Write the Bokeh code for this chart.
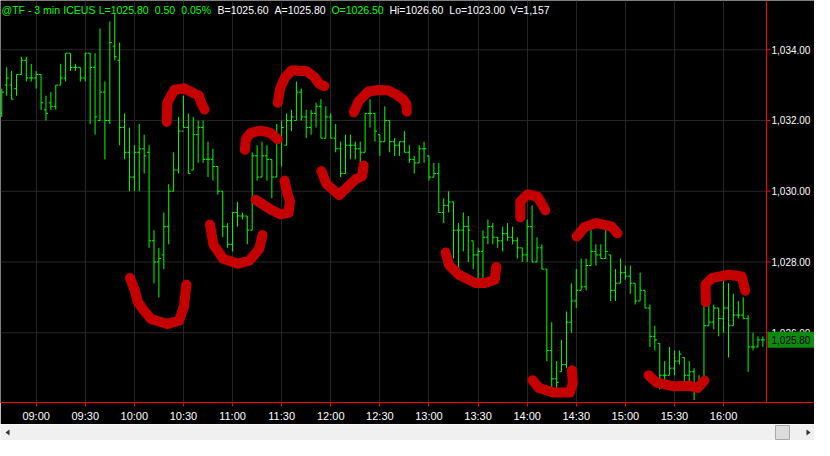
from bokeh.plotting import figure
from bokeh.models import (ColumnDataSource, FixedTicker, Label, Range1d, Span)
from bokeh.layouts import column
from bokeh.embed import file_html
from bokeh.resources import INLINE
from bokeh.core.properties import value

# ---------------- data (3-minute OHLC bars, @TF) ----------------
first_bar_time = "08:39"
bar_minutes = 3

highs = [1032.9, 1033.5, 1033.4, 1033.3, 1033.8, 1033.8, 1033.6, 1033.4, 1033.3, 1032.7,
         1032.8, 1033.0, 1033.6, 1033.9, 1033.9, 1033.6, 1033.5, 1033.9, 1033.9, 1033.9,
         1034.6, 1033.1, 1034.8, 1035.0, 1034.2, 1032.2, 1031.8, 1031.3, 1031.9, 1031.6,
         1031.3, 1028.9, 1028.4, 1029.4, 1030.2, 1031.1, 1032.1, 1032.7, 1032.2, 1032.1,
         1032.0, 1032.0, 1031.4, 1031.2, 1030.7, 1030.0, 1029.1, 1029.4, 1029.7, 1029.4,
         1029.3, 1031.1, 1031.3, 1031.4, 1031.3, 1030.9, 1031.9, 1032.0, 1032.2, 1032.3,
         1033.1, 1032.9, 1032.3, 1032.3, 1032.5, 1032.6, 1032.4, 1032.2, 1031.9, 1031.4,
         1031.6, 1031.6, 1031.4, 1031.4, 1032.2, 1032.6, 1032.2, 1031.6, 1032.4, 1032.0,
         1031.5, 1031.4, 1031.7, 1031.3, 1031.0, 1031.3, 1031.4, 1031.0, 1030.8, 1030.8,
         1029.8, 1030.0, 1029.7, 1029.1, 1029.4, 1029.3, 1028.6, 1028.4, 1028.9, 1029.2,
         1029.1, 1028.7, 1029.0, 1029.1, 1029.0, 1028.7, 1028.4, 1029.2, 1029.6, 1028.7,
         1028.5, 1027.8, 1026.3, 1025.2, 1025.8, 1026.6, 1027.4, 1027.8, 1028.1, 1028.1,
         1028.9, 1028.5, 1028.5, 1028.9, 1028.2, 1027.8, 1028.1, 1027.9, 1027.9, 1027.4,
         1027.7, 1027.2, 1026.8, 1026.2, 1025.7, 1025.2, 1025.6, 1025.5, 1025.5, 1025.3,
         1025.2, 1025.0, 1024.8, 1026.8, 1026.8, 1026.8, 1026.7, 1027.5, 1027.4, 1027.1,
         1026.9, 1027.0, 1026.5, 1026.0, 1025.9, 1025.9]

lows = [1032.1, 1032.7, 1032.6, 1032.7, 1033.3, 1033.1, 1033.1, 1032.9, 1032.3, 1032.0,
        1032.3, 1032.3, 1033.0, 1033.1, 1033.4, 1033.4, 1033.1, 1033.1, 1031.9, 1031.6,
        1032.0, 1030.9, 1031.9, 1033.7, 1031.3, 1030.9, 1030.0, 1030.0, 1030.0, 1030.5,
        1028.4, 1027.4, 1027.0, 1027.8, 1028.5, 1030.0, 1030.5, 1031.8, 1030.5, 1030.6,
        1030.8, 1030.8, 1030.4, 1030.3, 1029.9, 1028.7, 1028.4, 1028.3, 1029.0, 1029.2,
        1028.5, 1028.9, 1030.3, 1030.4, 1030.3, 1029.8, 1030.4, 1030.7, 1031.3, 1031.7,
        1032.0, 1032.0, 1031.5, 1031.6, 1031.8, 1031.5, 1031.5, 1031.5, 1031.1, 1030.4,
        1030.5, 1030.9, 1030.9, 1030.8, 1031.1, 1031.8, 1031.4, 1031.0, 1031.4, 1031.1,
        1031.0, 1031.0, 1031.1, 1030.8, 1030.5, 1030.8, 1030.8, 1030.3, 1030.4, 1029.4,
        1029.1, 1029.4, 1028.1, 1027.8, 1028.3, 1028.0, 1027.8, 1027.5, 1027.5, 1028.5,
        1028.5, 1028.4, 1028.3, 1028.6, 1028.5, 1028.1, 1028.0, 1028.0, 1028.0, 1028.0,
        1027.8, 1025.2, 1024.4, 1024.4, 1024.9, 1025.0, 1026.0, 1026.7, 1027.2, 1027.2,
        1027.9, 1027.9, 1028.1, 1028.1, 1026.9, 1026.9, 1027.4, 1027.5, 1027.1, 1026.8,
        1026.9, 1026.7, 1025.6, 1025.5, 1024.4, 1024.5, 1024.8, 1024.8, 1025.1, 1024.6,
        1024.6, 1024.1, 1024.4, 1024.6, 1026.2, 1026.1, 1025.9, 1026.0, 1025.3, 1026.2,
        1026.4, 1026.4, 1024.9, 1025.5, 1025.6, 1025.6]

opens = [1032.2, 1033.0, 1033.0, 1032.9, 1033.3, 1033.7, 1033.2, 1033.2, 1033.3, 1032.3,
         1032.5, 1032.4, 1033.0, 1033.2, 1033.9, 1033.5, 1033.5, 1033.2, 1033.9, 1033.5,
         1032.0, 1032.8, 1032.0, 1034.1, 1033.7, 1031.8, 1031.1, 1030.4, 1031.1, 1031.2,
         1031.1, 1028.6, 1028.0, 1028.2, 1029.0, 1030.0, 1030.6, 1031.7, 1031.8, 1030.6,
         1031.6, 1031.8, 1030.9, 1030.9, 1030.7, 1030.0, 1029.0, 1028.5, 1029.4, 1029.3,
         1029.3, 1028.9, 1031.0, 1030.4, 1031.0, 1030.9, 1030.4, 1031.4, 1031.3, 1032.0,
         1032.0, 1032.8, 1032.1, 1031.8, 1032.2, 1032.4, 1031.5, 1032.1, 1031.5, 1031.2,
         1030.5, 1031.3, 1031.3, 1031.2, 1031.1, 1032.2, 1032.2, 1031.6, 1031.4, 1032.0,
         1031.4, 1031.3, 1031.4, 1031.1, 1030.9, 1030.8, 1031.2, 1031.0, 1030.4, 1030.5,
         1029.4, 1029.6, 1029.7, 1028.9, 1028.9, 1029.0, 1028.6, 1028.2, 1028.3, 1028.7,
         1029.0, 1028.7, 1028.6, 1028.8, 1028.7, 1028.6, 1028.4, 1028.2, 1029.0, 1028.0,
         1028.4, 1027.8, 1025.5, 1024.7, 1024.9, 1025.1, 1026.3, 1026.9, 1027.2, 1027.3,
         1027.9, 1028.3, 1028.2, 1028.1, 1028.2, 1027.2, 1027.4, 1027.7, 1027.6, 1027.4,
         1026.9, 1027.2, 1026.7, 1025.9, 1025.7, 1024.8, 1024.8, 1025.0, 1025.2, 1025.3,
         1024.8, 1024.9, 1024.4, 1024.6, 1026.2, 1026.3, 1026.7, 1026.4, 1026.7, 1026.2,
         1026.5, 1026.5, 1026.4, 1025.6, 1025.6, 1025.8]

closes = [1032.8, 1033.2, 1032.6, 1033.3, 1033.7, 1033.2, 1033.2, 1033.3, 1032.5, 1032.2,
          1032.4, 1033.0, 1033.2, 1033.9, 1033.5, 1033.5, 1033.2, 1033.9, 1033.5, 1032.1,
          1032.8, 1032.0, 1034.2, 1033.8, 1031.8, 1031.1, 1030.4, 1031.1, 1031.2, 1031.0,
          1028.6, 1028.0, 1028.1, 1029.0, 1030.0, 1030.6, 1031.7, 1031.8, 1030.5, 1031.6,
          1031.8, 1030.9, 1030.9, 1030.7, 1030.0, 1029.0, 1028.5, 1029.4, 1029.3, 1029.3,
          1028.9, 1031.0, 1030.4, 1031.0, 1030.9, 1030.4, 1031.4, 1031.8, 1032.0, 1032.1,
          1032.8, 1032.1, 1031.8, 1032.2, 1032.4, 1031.5, 1032.1, 1031.5, 1031.2, 1030.5,
          1031.3, 1031.3, 1031.2, 1031.1, 1032.2, 1032.2, 1031.7, 1031.4, 1032.0, 1031.4,
          1031.3, 1031.4, 1031.1, 1030.9, 1030.8, 1031.2, 1031.2, 1030.4, 1030.5, 1029.4,
          1029.6, 1029.7, 1028.9, 1028.9, 1029.0, 1028.9, 1028.2, 1028.3, 1028.7, 1029.0,
          1028.7, 1028.6, 1028.8, 1028.7, 1028.6, 1028.4, 1028.2, 1029.0, 1028.0, 1028.4,
          1027.8, 1025.5, 1024.7, 1024.6, 1025.1, 1026.3, 1026.9, 1027.2, 1027.3, 1027.9,
          1028.3, 1028.2, 1028.1, 1028.3, 1027.2, 1027.4, 1027.7, 1027.6, 1027.4, 1026.9,
          1027.2, 1026.7, 1025.9, 1025.8, 1024.8, 1024.8, 1025.0, 1025.2, 1025.4, 1024.8,
          1024.9, 1024.4, 1024.6, 1026.2, 1026.3, 1026.7, 1026.4, 1026.7, 1026.2, 1026.5,
          1026.5, 1026.4, 1025.6, 1025.6, 1025.8, 1025.8]

time_ticks = ["09:00", "09:30", "10:00", "10:30", "11:00", "11:30", "12:00", "12:30",
              "13:00", "13:30", "14:00", "14:30", "15:00", "15:30", "16:00"]
price_ticks = [1026, 1028, 1030, 1032, 1034]
last_price = 1025.80

header = [("@TF - 3 min", "#00ff00", 1), ("ICEUS", "#00ff00", 64), ("L=1025.80", "#00ff00", 100),
          ("0.50", "#00ff00", 157), ("0.05%", "#00ff00", 184), ("B=1025.60", "#ffffff", 221),
          ("A=1025.80", "#ffffff", 279), ("O=1026.50", "#00ff00", 337),
          ("Hi=1026.60", "#ffffff", 396), ("Lo=1023.00", "#ffffff", 457), ("V=1,157", "#ffffff", 519)]

# hand-drawn red marks (bar index, price)
marks_x = [
    [26.1, 27.1, 27.7, 29.1, 30.4, 33.7, 36.1, 37.1, 37.6],
    [33.6, 33.7, 35.1, 37.1, 39.1, 40.1, 40.7, 41.3],
    [42.4, 43.1, 45.1, 48.1, 50.4, 52.4, 53.1],
    [49.5, 49.7, 50.7, 52.7, 54.7, 56.2],
    [57.6, 58.1, 58.7, 58.4, 56.7, 54.7, 51.7],
    [56.2, 56.7, 57.7, 59.1, 62.1, 63.7, 64.7, 65.7],
    [65.1, 66.1, 68.7, 70.7, 72.1, 73.4, 73.7],
    [71.7, 72.7, 74.7, 76.7, 78.7, 80.4, 81.7, 82.4, 82.5],
    [90.4, 91.1, 93.1, 96.4, 98.4, 100.4, 100.7],
    [105.6, 105.6, 107.1, 109.1, 110.7],
    [108.1, 109.4, 112.4, 115.7, 116.3, 116.1],
    [117.1, 118.7, 121.1, 124.1, 125.4],
    [131.7, 133.4, 136.7, 140.1, 141.7, 143.1],
    [143.4, 143.3, 144.7, 148.1, 150.7, 151.4],
]
marks_y = [
    [1027.55, 1027.20, 1026.87, 1026.60, 1026.39, 1026.25, 1026.34, 1026.74, 1027.36],
    [1031.96, 1032.50, 1032.86, 1032.91, 1032.77, 1032.71, 1032.47, 1032.31],
    [1029.06, 1028.49, 1028.09, 1027.95, 1028.04, 1028.36, 1028.76],
    [1031.17, 1031.47, 1031.65, 1031.71, 1031.65, 1031.47],
    [1030.30, 1029.98, 1029.71, 1029.39, 1029.35, 1029.49, 1029.76],
    [1032.50, 1032.91, 1033.22, 1033.42, 1033.39, 1033.22, 1033.03, 1032.97],
    [1030.57, 1030.21, 1029.89, 1030.16, 1030.34, 1030.43, 1030.73],
    [1032.23, 1032.55, 1032.82, 1032.86, 1032.85, 1032.73, 1032.60, 1032.47, 1032.25],
    [1028.27, 1027.91, 1027.64, 1027.41, 1027.41, 1027.50, 1027.86],
    [1029.26, 1029.71, 1029.91, 1029.85, 1029.46],
    [1024.66, 1024.44, 1024.31, 1024.31, 1024.58, 1024.94],
    [1028.72, 1028.99, 1029.10, 1029.01, 1028.81],
    [1024.80, 1024.59, 1024.49, 1024.50, 1024.44, 1024.65],
    [1026.87, 1027.37, 1027.55, 1027.64, 1027.59, 1027.19],
]

# ---------------- build ----------------
h0, m0 = map(int, first_bar_time.split(":"))
n = len(closes)
idx = list(range(n))
bar_times = []
for i in idx:
    t = h0 * 60 + m0 + bar_minutes * i
    bar_times.append(f"{t // 60:02d}:{t % 60:02d}")
tick_pos = [bar_times.index(t) for t in time_ticks]

W, H_MAIN, H_SB = 814, 424, 16
FRAME_H = H_MAIN - 19
PX = 766 / n                      # pixels per bar
X0 = -0.26
EDGE = X0 + 766 / PX              # right edge of the price pane (red line)
X1 = X0 + W / PX

TW = 0.42
src = ColumnDataSource(dict(
    x=idx, xl=[i - TW for i in idx], xr=[i + TW for i in idx],
    h=highs, l=lows, o=opens, c=closes, t=bar_times))

p = figure(width=W, height=H_MAIN, output_backend="svg", toolbar_location=None,
           y_axis_location=None,
           x_range=Range1d(X0, X1), y_range=Range1d(1024.03, 1035.39),
           min_border_left=0, min_border_top=0, min_border_right=0, min_border_bottom=19)
p.background_fill_color = "black"
p.border_fill_color = "black"
p.outline_line_color = None

# grid
p.xgrid.ticker = FixedTicker(ticks=tick_pos)
p.xgrid.grid_line_color = "#262626"
p.ygrid.visible = False
p.segment(x0=[X0] * len(price_ticks), x1=[EDGE] * len(price_ticks),
          y0=price_ticks, y1=price_ticks, line_color="#262626", line_width=1)

GREEN = "#00ff00"
p.segment(x0="x", y0="l", x1="x", y1="h", source=src, line_color=GREEN, line_width=1)
p.segment(x0="xl", y0="o", x1="x", y1="o", source=src, line_color=GREEN, line_width=1)
p.segment(x0="x", y0="c", x1="xr", y1="c", source=src, line_color=GREEN, line_width=1)

p.multi_line(xs=marks_x, ys=marks_y, line_color="#c40000", line_width=10,
             line_cap="round", line_join="round")

# price scale on the right of the pane
p.add_layout(Span(location=EDGE, dimension="height", line_color="#ff0000", line_width=1))
p.segment(x0=[EDGE] * len(price_ticks), x1=[EDGE + 4 / PX] * len(price_ticks),
          y0=price_ticks, y1=price_ticks, line_color="#ff0000", line_width=1)
p.text(x=[EDGE + 5 / PX] * len(price_ticks), y=price_ticks,
       text=[f"{v:,.2f}" for v in price_ticks], text_color="white",
       text_font=value("Liberation Sans"), text_font_size="10px",
       text_baseline="middle", text_align="left")
p.rect(x=[EDGE + 25 / PX], y=[last_price], width=48, height=16,
       width_units="screen", height_units="screen", fill_color="#0e8a0e", line_color=None)
p.text(x=[EDGE + 5 / PX], y=[last_price], text=[f"{last_price:,.2f}"], text_color="black",
       text_font=value("Liberation Sans"), text_font_size="10px",
       text_baseline="middle", text_align="left")

# time axis
ax = p.xaxis[0]
ax.ticker = FixedTicker(ticks=tick_pos)
ax.major_label_overrides = {k: v for k, v in zip(tick_pos, time_ticks)}
ax.axis_line_color = "#ff0000"
ax.major_tick_line_color = "#ff0000"
ax.major_tick_out = 4
ax.major_tick_in = 0
ax.minor_tick_line_color = None
ax.major_label_text_color = "white"
ax.major_label_text_font = "Liberation Sans"
ax.major_label_text_font_size = "11px"
ax.major_label_standoff = 3

# header text
sx = 766 / 780
for txt, col, x in header:
    p.add_layout(Label(x=x * sx, y=FRAME_H - 12, x_units="screen", y_units="screen", text=txt,
                       text_color=col, text_font="Liberation Sans", text_font_size="10.5px",
                       text_baseline="alphabetic", text_align="left"))

# scrollbar strip
sb = figure(width=W, height=H_SB, output_backend="svg", toolbar_location=None,
            x_range=Range1d(0, W), y_range=Range1d(0, H_SB), min_border=0)
sb.axis.visible = False
sb.grid.visible = False
sb.outline_line_color = None
sb.background_fill_color = "#f0f0f0"
sb.border_fill_color = "#f0f0f0"
sb.quad(left=[775], right=[789], bottom=[1], top=[15], fill_color="#dcdcdc", line_color="#a8a8a8")
sb.patch(x=[5, 9, 9], y=[8, 11, 5], fill_color="#303030", line_color=None)
sb.patch(x=[810, 806, 806], y=[8, 11, 5], fill_color="#303030", line_color=None)

layout = column(p, sb, spacing=0)
open("out.html", "w").write(file_html(layout, INLINE))
